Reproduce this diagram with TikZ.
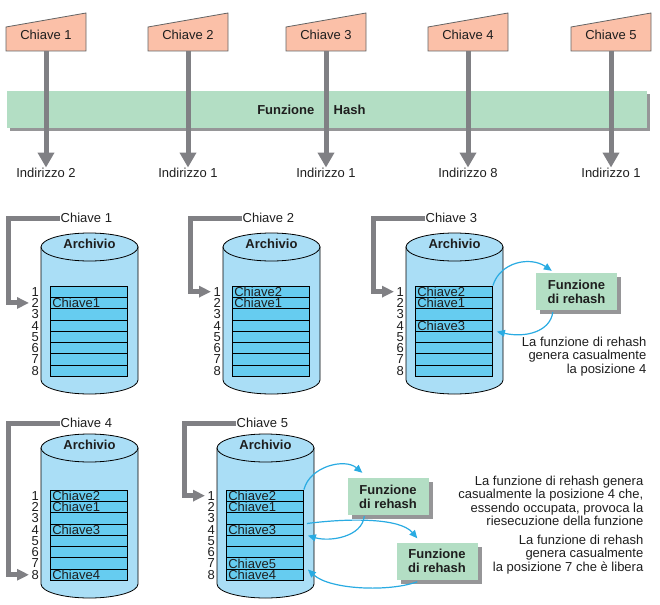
\documentclass[tikz,border=0pt]{standalone}
\usepackage{fontspec}
\setmainfont{Liberation Sans}
\usetikzlibrary{arrows.meta,shadows,calc}
\definecolor{keyfill}{RGB}{251,192,168}
\definecolor{keyline}{RGB}{100,100,100}
\definecolor{bandgreen}{RGB}{179,222,196}
\definecolor{shadowgray}{RGB}{150,150,152}
\definecolor{arrowgray}{RGB}{128,128,132}
\definecolor{cylfill}{RGB}{170,222,246}
\definecolor{rowfill}{RGB}{102,204,240}
\definecolor{bluearrow}{RGB}{41,171,226}
\definecolor{textc}{RGB}{30,30,30}
\begin{document}
\begin{tikzpicture}[x=1pt,y=-1pt,
  txt/.style={font=\fontsize{13}{14}\selectfont, text=textc, inner sep=0.5pt},
  bld/.style={font=\fontsize{13}{14}\selectfont\bfseries, text=textc, inner sep=0.5pt},
  cell/.style={draw=black, line width=0.8pt, fill=rowfill, minimum width=77pt, minimum height=11.3pt, inner sep=0pt},
  celltxt/.style={font=\fontsize{13}{14}\selectfont, text=textc, inner sep=0pt, anchor=west},
  num/.style={font=\fontsize{13}{14}\selectfont, text=textc, inner sep=0pt, anchor=east},
  cyl/.style={draw=black, line width=0.8pt, fill=cylfill},
  keyshape/.style={fill=keyfill, draw=keyline, line width=0.8pt},
  keynode/.style={minimum width=80pt, minimum height=24pt, inner sep=0pt},
  grayarrow/.style={draw=arrowgray, line width=5pt, -{Triangle[length=15pt,width=16pt]}},
  grayL/.style={draw=arrowgray, line width=5pt, -{Triangle[length=12pt,width=11pt]}},
  bluearr/.style={draw=bluearrow, line width=1.2pt, -{Triangle[length=8pt,width=7pt]}},
  rehash/.style={bld, fill=bandgreen, align=center, minimum width=81pt, minimum height=37pt, inner sep=0pt,
     drop shadow={shadow xshift=4pt, shadow yshift=-4pt, fill=shadowgray, opacity=1}},
  band/.style={fill=bandgreen, minimum width=640pt, minimum height=37pt, inner sep=0pt,
     drop shadow={shadow xshift=3pt, shadow yshift=-3pt, fill=shadowgray, opacity=1}},
  desc/.style={font=\fontsize{13}{13.3}\selectfont, text=textc, inner sep=0.5pt, align=right, anchor=north east}
]
\useasboundingbox (0,0) rectangle (660,604);

% hash band
\node[band] (band) at (327,109.5) {};
\node[bld, anchor=east] (fh1) at (315,110) {Funzione};
\node[bld, anchor=west] (fh2) at (333,110) {Hash};

% keys and addresses
\foreach \i/\x/\a in {1/46/2, 2/188/1, 3/326/1, 4/468/8, 5/611/1}{
  \filldraw[keyshape] (\x-40,51) -- (\x+40,51) -- (\x+40,13) -- (\x-40,27) -- cycle;
  \node[keynode] (k\i) at (\x,39) {};
  \node[txt] (kt\i) at (\x,35) {Chiave \i};
  \node[txt] (in\i) at (\x,173) {Indirizzo \a};
  \draw[grayarrow] (k\i.south) -- (in\i.north);
}

% archives
\foreach \i/\lx/\cy/\T/\ly/\tg in {1/41/247/286/218/2, 2/223/247/286/218/1, 3/406/247/286/218/1, 4/41/448/490/423/8, 5/217/448/490/423/1}{
  \pgfmathsetmacro\bb{\T+94}
  \filldraw[cyl] (\lx,\cy) -- (\lx,\bb) arc[start angle=180,end angle=360,x radius=48.5pt,y radius=14pt] -- (\lx+97,\cy) -- cycle;
  \filldraw[cyl] (\lx+48.5,\cy) ellipse[x radius=48.5pt,y radius=14pt];
  \node[bld] (ar\i) at (\lx+48.5,\cy-3) {Archivio};
  \foreach \r in {1,...,8}{
    \node[cell] (t\i-\r) at (\lx+48, {\T+(\r-0.5)*11.3}) {};
    \node[num] (n\i-\r) at (\lx-2, {\T+(\r-0.5)*11.3}) {\r};
  }
  \node[txt, anchor=west] (c\i) at (\lx+19,\ly) {Chiave \i};
  \coordinate (g\i) at (\lx-12, {\T+(\tg-0.5)*11.3});
  \draw[grayL] (c\i.west) -| ([xshift=-21pt]g\i) -- (g\i);
}

% archive contents
\foreach \i/\r/\t in {1/2/Chiave1, 2/1/Chiave2, 2/2/Chiave1, 3/1/Chiave2, 3/2/Chiave1, 3/4/Chiave3,
  4/1/Chiave2, 4/2/Chiave1, 4/4/Chiave3, 4/8/Chiave4,
  5/1/Chiave2, 5/2/Chiave1, 5/4/Chiave3, 5/7/Chiave5, 5/8/Chiave4}{
  \node[celltxt] (x\i-\r) at ([xshift=2pt]t\i-\r.west) {\t};
}

% rehash boxes
\node[rehash] (rh3) at (576.5,291.5) {Funzione\\di rehash};
\node[rehash] (rha) at (388,496.5) {Funzione\\di rehash};
\node[rehash] (rhb) at (437,561) {Funzione\\di rehash};

% blue arrows, archive 3
\draw[bluearr] (t3-1.north east) .. controls (500,262) and (530,256) .. ([xshift=16pt,yshift=2pt]rh3.north west);
\draw[bluearr] ([xshift=17pt,yshift=-2pt]rh3.south west) .. controls (550,332) and (525,338) .. ([xshift=4pt]t3-4.south east);

% blue arrows, archive 5
\draw[bluearr] (t5-1.north east) .. controls (310,466) and (345,458) .. ([xshift=15pt,yshift=5pt]rha.north west);
\draw[bluearr] ([xshift=17pt,yshift=-1pt]rha.south west) .. controls (362,537) and (330,542) .. ([xshift=4pt]t5-4.south east);
\draw[bluearr] ([xshift=3pt]t5-4.north east) .. controls (350,518) and (400,518) .. ([xshift=21pt,yshift=4pt]rhb.north west);
\draw[bluearr] ([xshift=21pt,yshift=-2pt]rhb.south west) .. controls (390,592) and (330,590) .. ([xshift=4pt]t5-7.south east);

% descriptions
\node[desc] (d3) at (647,336.5) {La funzione di rehash\\genera casualmente\\la posizione 4};
\node[desc] (d5a) at (644,475.5) {La funzione di rehash genera\\casualmente la posizione 4 che,\\essendo occupata, provoca la\\riesecuzione della funzione};
\node[desc] (d5b) at (644,534.5) {La funzione di rehash\\genera casualmente\\la posizione 7 che è libera};
\end{tikzpicture}
\end{document}
